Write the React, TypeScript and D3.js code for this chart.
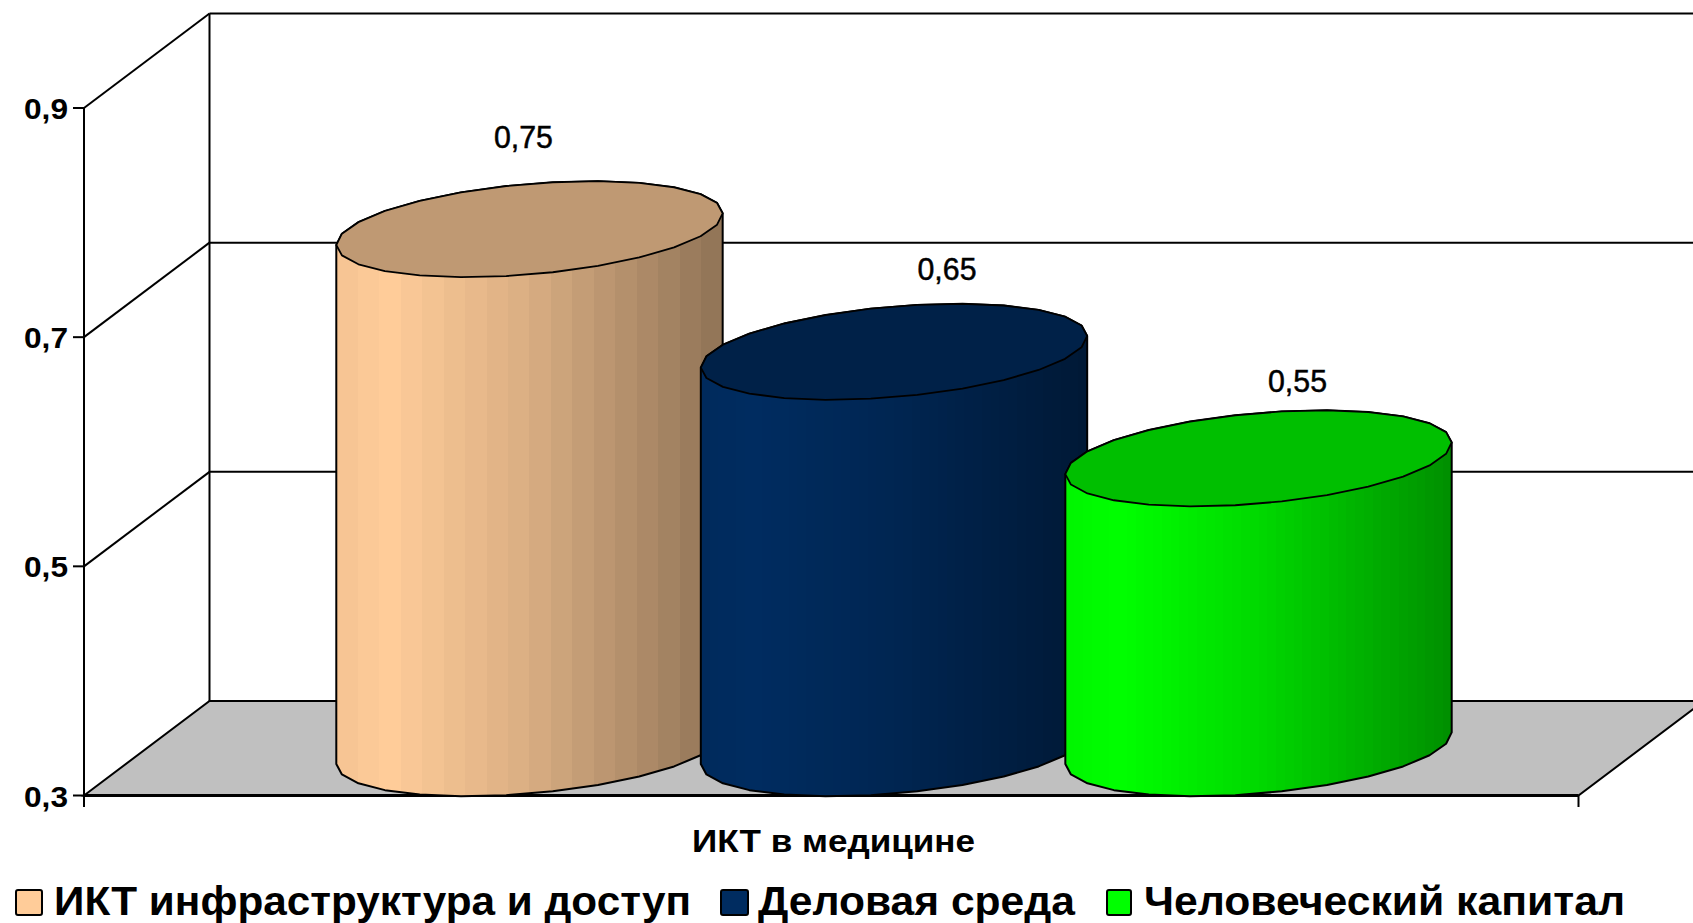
import React from "react";
import * as d3 from "d3";

const seriesNames = ["ИКТ инфраструктура и доступ", "Деловая среда", "Человеческий капитал"];
const seriesValues = [0.753, 0.646, 0.553];
const valueLabels = ["0,75", "0,65", "0,55"];
const seriesColors = ["#FFCC99", "#002C60", "#00FF00"];
const axisTicks = [0.3, 0.5, 0.7, 0.9];
const axisTickLabels = ["0,3", "0,5", "0,7", "0,9"];
const categoryLabel = "ИКТ в медицине";

const W = 1693, H = 923;
const front = { x0: 84, x1: 1578.5 };
const depth = { dx: 125.5, dy: -94.5 };
const y = d3.scaleLinear().domain([0.3, 0.9]).range([795.5, 108]);
const x = d3.scaleBand<string>().domain(seriesNames)
  .range([front.x0 + depth.dx / 2, front.x1 + depth.dx / 2]).paddingInner(0).paddingOuter(0.55);
const radiusX = x.bandwidth() * 0.53;
const radiusY = 48;
const skewX = radiusY * depth.dx / -depth.dy;
const ax = Math.sqrt(radiusX * radiusX - skewX * skewX);
const t0 = Math.atan2(skewX, ax);
const pt = (cx: number, cy: number, t: number): [number, number] =>
  [cx + ax * Math.cos(t) + skewX * Math.sin(t), cy - radiusY * Math.sin(t)];
const line = d3.line();
const arc = (cx: number, cy: number, a: number, b: number, seg: number) =>
  d3.range(seg + 1).map(i => pt(cx, cy, a + (b - a) * i / seg));

const labelDx = [-6, 53, 39];
const labelBaseline = [147.5, 280, 391.5];
const legendSwatchX = [16, 721, 1107];
const legendSwatchW = [26, 27, 24];
const legendTextX = [54, 758, 1144];
const legendTextLen = [637, 317, 481];

const shade = d3.scaleLinear<number>().domain([0, 0.14, 0.5, 1]).range([0.96, 1, 0.85, 0.56]);
const bandCounts = [18, 44, 44];
function stops(color: string, n: number) {
  const c = d3.rgb(color);
  const out: React.ReactNode[] = [];
  for (let i = 0; i < n; i++) {
    const f = shade((i + 0.5) / n);
    const col = d3.rgb(c.r * f, c.g * f, c.b * f).formatHex();
    out.push(<stop key={i + "a"} offset={i / n} stopColor={col} />);
    out.push(<stop key={i + "b"} offset={(i + 1) / n} stopColor={col} />);
  }
  return out;
}
const topColor = (color: string) => {
  const c = d3.rgb(color);
  return d3.rgb(c.r * 0.75, c.g * 0.75, c.b * 0.75).formatHex();
};

export default function App() {
  const font = "'Liberation Sans', Arial, sans-serif";
  const by = (v: number) => y(v) + depth.dy;
  return (
    <svg width={W} height={H} viewBox={`0 0 ${W} ${H}`} style={{ position: "absolute", left: 0, top: 0, background: "#fff" }}>
      <defs>
        {seriesColors.map((c, i) => (
          <linearGradient id={`body${i}`} key={i} x1="0" x2="1" y1="0" y2="0">
            {stops(c, bandCounts[i])}
          </linearGradient>
        ))}
      </defs>

      <polygon
        points={[[front.x0, y(0.3)], [front.x0 + depth.dx, by(0.3)], [front.x1 + depth.dx, by(0.3)], [front.x1, y(0.3)]].join(" ")}
        fill="#C0C0C0" stroke="#000" strokeWidth={2} />

      {axisTicks.map(t => (
        <g key={t} stroke="#000" strokeWidth={2}>
          <line x1={front.x0 + depth.dx} x2={W} y1={by(t)} y2={by(t)} />
          {t > 0.3 && <line x1={front.x0} y1={y(t)} x2={front.x0 + depth.dx} y2={by(t)} />}
          <line x1={front.x0 - 11} x2={front.x0} y1={y(t)} y2={y(t)} />
        </g>
      ))}
      <g stroke="#000" strokeWidth={2}>
        <line x1={front.x0 + depth.dx} x2={front.x0 + depth.dx} y1={by(0.9)} y2={by(0.3)} />
        <line x1={front.x0} x2={front.x0} y1={y(0.9)} y2={807} />
        <line x1={front.x1} x2={front.x1} y1={y(0.3)} y2={807} />
        <line x1={front.x0} x2={front.x1} y1={y(0.3)} y2={y(0.3)} strokeWidth={3} />
      </g>

      {seriesNames.map((name, i) => {
        const cx = x(name)! + x.bandwidth() / 2;
        const topY = y(seriesValues[i]) + depth.dy / 2;
        const botY = y(0.3) + depth.dy / 2;
        const lower = arc(cx, botY, t0 + Math.PI, t0 + 2 * Math.PI, 13);
        const upper = arc(cx, topY, t0, t0 + Math.PI, 13);
        const body = line([...lower, ...upper])! + "Z";
        const top = line(arc(cx, topY, t0, t0 + 2 * Math.PI, 26))! + "Z";
        return (
          <g key={name}>
            <path d={body} fill={`url(#body${i})`} stroke="#000" strokeWidth={2} strokeLinejoin="round" />
            <path d={top} fill={topColor(seriesColors[i])} stroke="#000" strokeWidth={1.8} strokeLinejoin="round" />
            <text x={cx + labelDx[i]} y={labelBaseline[i]} fontFamily={font} fontSize={31} textAnchor="middle"
              textLength={59} lengthAdjust="spacingAndGlyphs" stroke="#000" strokeWidth={0.5}>{valueLabels[i]}</text>
          </g>
        );
      })}

      {axisTicks.map((t, i) => (
        <text key={t} x={68} y={y(t) + 11} fontFamily={font} fontSize={30} fontWeight={700} textAnchor="end"
          textLength={44} lengthAdjust="spacingAndGlyphs">{axisTickLabels[i]}</text>
      ))}

      <text x={833.5} y={852} fontFamily={font} fontSize={32} fontWeight={700} textAnchor="middle"
        textLength={283} lengthAdjust="spacingAndGlyphs">{categoryLabel}</text>

      {seriesNames.map((name, i) => (
        <g key={name}>
          <rect x={legendSwatchX[i]} y={890} width={legendSwatchW[i]} height={25} rx={2}
            fill={seriesColors[i]} stroke="#000" strokeWidth={2} />
          <text x={legendTextX[i]} y={915} fontFamily={font} fontSize={41} fontWeight={700}
            textLength={legendTextLen[i]} lengthAdjust="spacingAndGlyphs">{name}</text>
        </g>
      ))}
    </svg>
  );
}
